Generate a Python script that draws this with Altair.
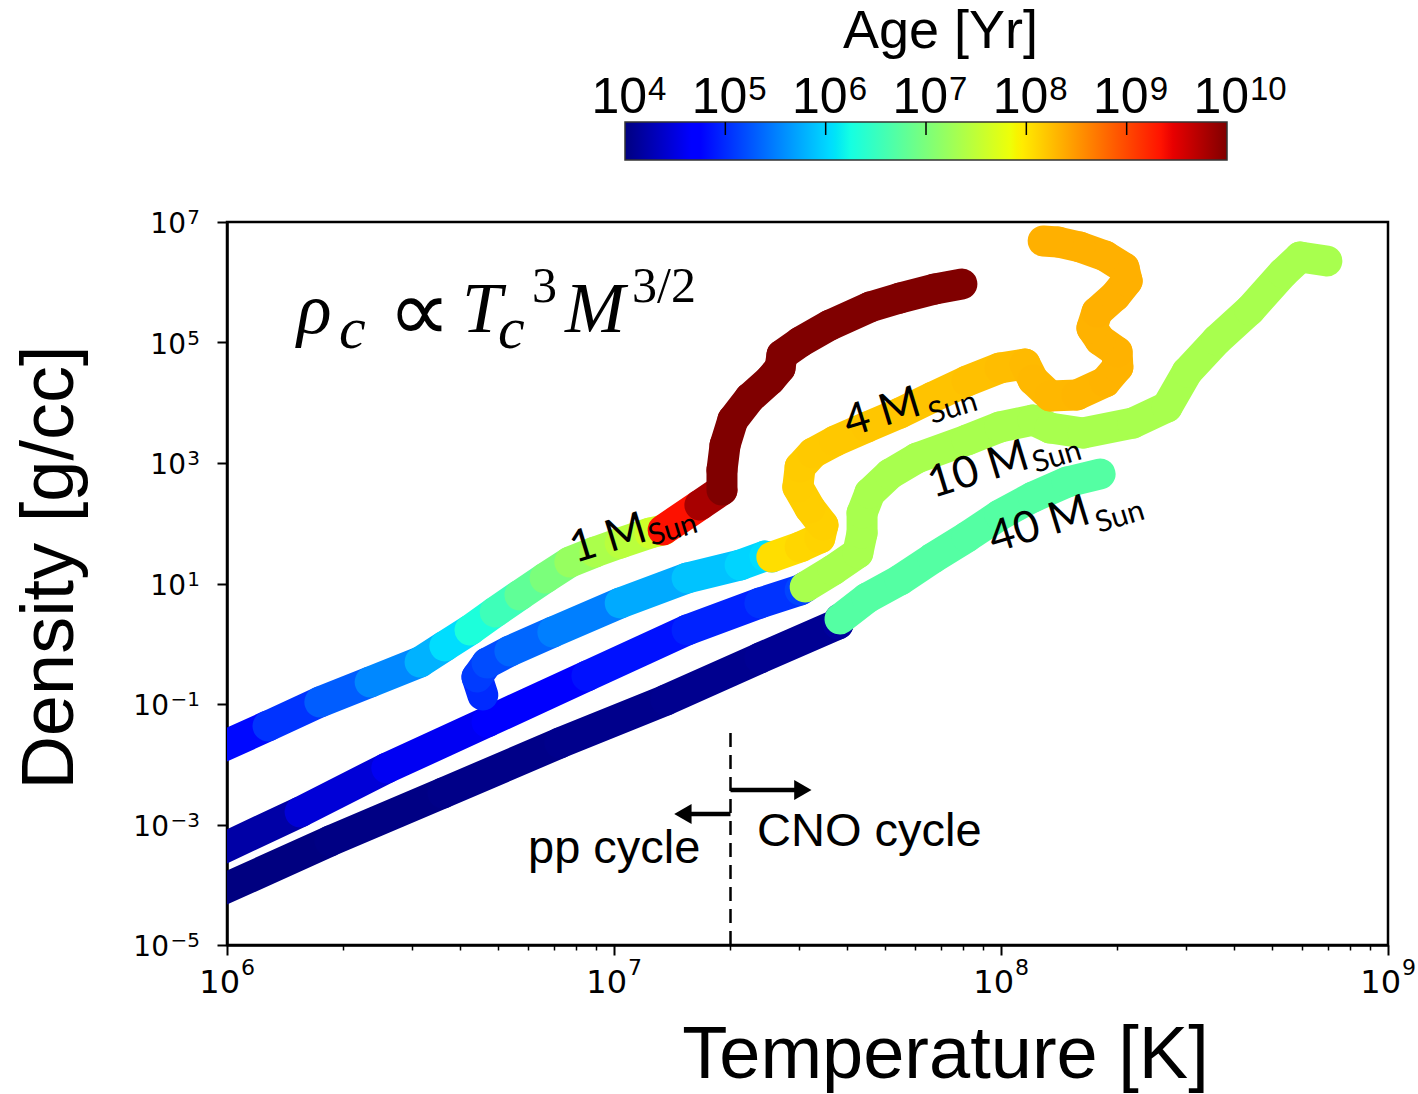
import altair as alt
import pandas as pd
import numpy as np

# ---------------------------------------------------------------------------
# Central temperature / density tracks (log10 T [K], log10 rho [g/cc]) and
# log10 age [yr] at each sampled point along the track.
# ---------------------------------------------------------------------------
m1_logT = [5.969, 6.106, 6.240, 6.370, 6.499, 6.563, 6.628, 6.693, 6.757, 6.822,
           6.886, 6.951, 7.016, 7.093, 7.127, 7.222, 7.279, 7.279, 7.287, 7.307,
           7.351, 7.403, 7.429, 7.434, 7.481, 7.558, 7.661, 7.739, 7.829, 7.899]
m1_logrho = [-1.763, -1.365, -0.967, -0.635, -0.303, -0.037, 0.228, 0.527, 0.809, 1.091,
             1.357, 1.523, 1.672, 1.838, 1.888, 2.303, 2.552, 2.884, 3.299, 3.714,
             4.079, 4.378, 4.577, 4.793, 5.008, 5.290, 5.589, 5.739, 5.888, 5.971]
m1_logage = [4.80, 5.05, 5.30, 5.55, 5.80, 6.05, 6.30, 6.55, 6.80, 7.00,
             7.20, 7.35, 7.45, 7.60, 9.35, 9.80, 10.0, 10.0, 10.0, 10.0,
             10.0, 10.0, 10.0, 10.0, 10.0, 10.0, 10.0, 10.0, 10.0, 10.0]

m4_logT = [6.661, 6.646, 6.672, 6.731, 6.842, 7.016, 7.189, 7.326, 7.390, 7.408,
           7.481, 7.532, 7.540, 7.506, 7.475, 7.481, 7.514, 7.571, 7.654, 7.739,
           7.824, 7.912, 7.997, 8.062, 8.083, 8.127, 8.196, 8.269, 8.302, 8.300,
           8.256, 8.235, 8.248, 8.295, 8.326, 8.318, 8.269, 8.204, 8.147, 8.109]
m4_logrho = [-0.851, -0.552, -0.320, -0.120, 0.195, 0.676, 1.091, 1.307, 1.456, 1.440,
             1.606, 1.755, 1.971, 2.253, 2.602, 2.934, 3.166, 3.365, 3.598, 3.830,
             4.095, 4.361, 4.577, 4.643, 4.378, 4.112, 4.129, 4.344, 4.593, 4.842,
             5.041, 5.241, 5.506, 5.772, 6.021, 6.237, 6.436, 6.585, 6.668, 6.685]
m4_logage = [5.00, 5.10, 5.20, 5.35, 5.50, 5.75, 5.90, 6.00, 6.05, 8.05,
             8.10, 8.12, 8.14, 8.15, 8.16, 8.17, 8.18, 8.19, 8.20, 8.21,
             8.22, 8.24, 8.26, 8.28, 8.29, 8.30, 8.31, 8.32, 8.32, 8.33,
             8.33, 8.33, 8.34, 8.34, 8.34, 8.34, 8.34, 8.34, 8.34, 8.34]

m10_logT = [5.969, 6.189, 6.413, 6.672, 6.930, 7.189, 7.377, 7.481,
            7.494, 7.566, 7.630, 7.641, 7.641, 7.661, 7.713, 7.783, 7.912, 7.997,
            8.083, 8.127, 8.212, 8.341, 8.429, 8.481, 8.558, 8.643, 8.729, 8.773, 8.842]
m10_logrho = [-3.456, -2.793, -2.062, -1.299, -0.535, 0.228, 0.676, 0.892,
              0.942, 1.224, 1.506, 1.838, 2.170, 2.502, 2.817, 3.083, 3.382, 3.598,
              3.714, 3.581, 3.498, 3.664, 3.929, 4.510, 5.041, 5.539, 6.154, 6.419, 6.353]
m10_logage = [4.20, 4.45, 4.60, 4.75, 4.85, 4.95, 5.05, 5.15,
              7.33, 7.33, 7.33, 7.33, 7.33, 7.33, 7.33, 7.33, 7.33, 7.33,
              7.33, 7.33, 7.33, 7.33, 7.33, 7.33, 7.33, 7.33, 7.33, 7.33, 7.33]

m40_logT = [5.969, 6.266, 6.558, 6.860, 7.134, 7.377, 7.579,
            7.584, 7.654, 7.739, 7.824, 7.912, 7.997, 8.083, 8.171, 8.256]
m40_logrho = [-4.137, -3.274, -2.477, -1.647, -0.934, -0.237, 0.328,
              0.411, 0.759, 1.058, 1.423, 1.772, 2.137, 2.436, 2.685, 2.817]
m40_logage = [4.00, 4.02, 4.04, 4.06, 4.08, 4.10, 4.15,
              6.71, 6.71, 6.71, 6.71, 6.71, 6.71, 6.71, 6.71, 6.71]

# drawing order: later tracks sit on top
tracks = [
    ("10", m10_logT, m10_logrho, m10_logage),
    ("40", m40_logT, m40_logrho, m40_logage),
    ("4", m4_logT, m4_logrho, m4_logage),
    ("1", m1_logT, m1_logrho, m1_logage),
]

rows = []
for name, lT, lr, la in tracks:
    for i in range(len(lT) - 1):
        rows.append({
            "star": name,
            "T": 10 ** lT[i], "T2": 10 ** lT[i + 1],
            "rho": 10 ** lr[i], "rho2": 10 ** lr[i + 1],
            "age": la[i],
        })
segments = pd.DataFrame(rows)

# ---------------------------------------------------------------------------
# Tick labels (base "10" plus exponent)
# ---------------------------------------------------------------------------
x_label_values = [1e6, 1e7, 1e8, 1e9]
x_label_exp = ["6", "7", "8", "9"]
y_label_pos_values = [1e1, 1e3, 1e5, 1e7]
y_label_pos_exp = ["1", "3", "5", "7"]
y_label_neg_values = [1e-5, 1e-3, 1e-1]
y_label_neg_exp = ["−5", "−3", "−1"]
cbar_ticks = [4, 5, 6, 7, 8, 9, 10]
cbar_exp = ["4", "5", "6", "7", "8", "9", "10"]
cbar_inner = [5, 6, 7, 8, 9]

# ---------------------------------------------------------------------------
# Annotations (positions in log10 T, log10 rho)
# ---------------------------------------------------------------------------
pp_cno_T = 2e7
dash_top_logrho = -1.448

arrow_start_logT = [7.301, 7.301]
arrow_end_logT = [7.481, 7.196]
arrow_head_logT = [7.488, 7.178]
arrow_logrho = [-2.427, -2.826]
arrow_shape = ["triangle-right", "triangle-left"]

cycle_text = ["CNO cycle", "pp cycle"]
cycle_logT = [7.3695, 6.7778]
cycle_logrho = [-3.357, -3.639]

formula_it_text = ["ρ", "c", "T", "c", "M"]
formula_it_logT = [6.1809, 6.2894, 6.6072, 6.7003, 6.8734]
formula_it_logrho = [5.1577, 4.9087, 5.1743, 4.9087, 5.1743]
formula_it_size = [72, 60, 72, 60, 72]

formula_sup_text = ["3", "3/2"]
formula_sup_logT = [6.7881, 7.0465]
formula_sup_logrho = [5.672, 5.672]

propto_logT = [6.416]
propto_logrho = [5.025]

mass_text = ["1 M", "4 M", "10 M", "40 M"]
mass_logT = [6.8992, 7.6072, 7.8243, 7.9819]
mass_logrho = [1.3402, 3.4315, 2.4191, 1.5062]
sun_logT = [7.0982, 7.8217, 8.0904, 8.2532]
sun_logrho = [1.6224, 3.6473, 2.8340, 1.8382]

# ---------------------------------------------------------------------------
# Jet colormap on log10(age) from 4 to 10
# ---------------------------------------------------------------------------
age_lo, age_hi = 4.0, 10.0
jet_pos = [0, 0.11, 0.125, 0.34, 0.35, 0.375, 0.64, 0.65, 0.66, 0.89, 0.91, 1.0]
jet_col = ["#000080", "#0000ff", "#0000ff", "#00dbff", "#00e5f7", "#15ffe2",
           "#eeff08", "#f7f500", "#ffec00", "#ff1300", "#e80000", "#800000"]
age_scale = alt.Scale(domain=[age_lo + (age_hi - age_lo) * p for p in jet_pos],
                      range=jet_col, interpolate="rgb", clamp=True)

# ---------------------------------------------------------------------------
# Scales and axes
# ---------------------------------------------------------------------------
PLOT_W, PLOT_H = 1161, 723
xs = alt.Scale(type="log", domain=[1e6, 1e9], nice=False)
ys = alt.Scale(type="log", domain=[1e-5, 1e7], nice=False)

x_tick_values = [m * 10 ** e for e in (6, 7, 8) for m in range(1, 10)] + [10 ** 9]
x_major = ("datum.value == 1000000 || datum.value == 10000000 || "
           "datum.value == 100000000 || datum.value == 1000000000")
x_axis = alt.Axis(
    orient="bottom", values=x_tick_values, grid=False, labels=False,
    tickSize={"condition": {"test": x_major, "value": 10}, "value": 5},
    tickWidth={"condition": {"test": x_major, "value": 2}, "value": 1.5},
    domainWidth=2.5,
    title="Temperature [K]", titleFont="Liberation Sans", titleFontSize=74,
    titleFontWeight="normal", titleX=718, titleY=132, titleAlign="center",
    titleBaseline="alphabetic",
)

y_axis = alt.Axis(
    orient="left", values=y_label_neg_values + y_label_pos_values, grid=False,
    labels=False, tickSize=10, tickWidth=2, domainWidth=2.5,
    title="Density [g/cc]", titleFont="Liberation Sans", titleFontSize=74,
    titleFontWeight="normal", titleAngle=270, titleX=-155, titleY=345,
    titleAlign="center", titleBaseline="alphabetic",
)


def X(field):
    return alt.X(field, type="quantitative", scale=xs, axis=x_axis)


def Y(field):
    return alt.Y(field, type="quantitative", scale=ys, axis=y_axis)


def pts(logT, logrho, **extra):
    d = {"T": [10 ** v for v in logT], "rho": [10 ** v for v in logrho]}
    d.update(extra)
    return pd.DataFrame(d)


# ---------------------------------------------------------------------------
# Main panel layers
# ---------------------------------------------------------------------------
track_layer = alt.Chart(segments).mark_rule(
    strokeWidth=31, strokeCap="round", clip=True
).encode(
    x=X("T"), x2="T2:Q", y=Y("rho"), y2="rho2:Q",
    color=alt.Color("age:Q", scale=age_scale, legend=None),
)

dash_df = pd.DataFrame({"T": [pp_cno_T], "rho": [1e-5], "rho2": [10 ** dash_top_logrho]})
dash_layer = alt.Chart(dash_df).mark_rule(
    color="black", strokeWidth=2.5, strokeDash=[14, 8]
).encode(x=X("T"), y=Y("rho"), y2="rho2:Q")

stem_df = pts(arrow_start_logT, arrow_logrho, T2=[10 ** v for v in arrow_end_logT])
stem_layer = alt.Chart(stem_df).mark_rule(color="black", strokeWidth=4.5).encode(
    x=X("T"), x2="T2:Q", y=Y("rho"))

head_df = pts(arrow_head_logT, arrow_logrho, shape=arrow_shape)
head_layer = alt.Chart(head_df).mark_point(
    filled=True, size=400, color="black", opacity=1
).encode(x=X("T"), y=Y("rho"), shape=alt.Shape("shape:N", scale=None))

cycle_layer = alt.Chart(pts(cycle_logT, cycle_logrho, text=cycle_text)).mark_text(
    font="Liberation Sans", fontSize=47, align="left", baseline="alphabetic", color="black"
).encode(x=X("T"), y=Y("rho"), text="text:N")

f_it_df = pts(formula_it_logT, formula_it_logrho, text=formula_it_text, size=formula_it_size)
f_it_layer = alt.Chart(f_it_df).mark_text(
    font="Liberation Serif", fontStyle="italic", align="left",
    baseline="alphabetic", color="black"
).encode(x=X("T"), y=Y("rho"), text="text:N",
         size=alt.Size("size:Q", scale=None, legend=None))

f_sup_layer = alt.Chart(pts(formula_sup_logT, formula_sup_logrho, text=formula_sup_text)).mark_text(
    font="Liberation Serif", fontSize=50, align="left", baseline="alphabetic", color="black"
).encode(x=X("T"), y=Y("rho"), text="text:N")

propto_layer = alt.Chart(pts(propto_logT, propto_logrho, text=["∝"])).mark_text(
    font="DejaVu Sans", fontSize=88, align="left", baseline="alphabetic", color="black"
).encode(x=X("T"), y=Y("rho"), text="text:N")

mass_layer = alt.Chart(pts(mass_logT, mass_logrho, text=mass_text)).mark_text(
    font="Lato", fontSize=44, angle=343, align="left", baseline="alphabetic", color="black"
).encode(x=X("T"), y=Y("rho"), text="text:N")

sun_layer = alt.Chart(pts(sun_logT, sun_logrho, text=["Sun"] * 4)).mark_text(
    font="Lato", fontSize=30, angle=343, align="left", baseline="alphabetic", color="black"
).encode(x=X("T"), y=Y("rho"), text="text:N")

# tick labels of the main axes
xlab_df = pd.DataFrame({"T": x_label_values, "exp": x_label_exp})
xbase_layer = alt.Chart(xlab_df).mark_text(
    font="DejaVu Sans", fontSize=32, align="right", baseline="alphabetic",
    dx=13, dy=48, color="black"
).encode(x=X("T"), y=alt.value(PLOT_H), text=alt.value("10"))
xexp_layer = alt.Chart(xlab_df).mark_text(
    font="DejaVu Sans", fontSize=22, align="left", baseline="alphabetic",
    dx=14, dy=30, color="black"
).encode(x=X("T"), y=alt.value(PLOT_H), text="exp:N")

ypos_df = pd.DataFrame({"rho": y_label_pos_values, "exp": y_label_pos_exp})
yneg_df = pd.DataFrame({"rho": y_label_neg_values, "exp": y_label_neg_exp})
ylab_df = pd.concat([yneg_df, ypos_df], ignore_index=True)
yexp_layer = alt.Chart(ylab_df).mark_text(
    font="DejaVu Sans", fontSize=20, align="right", baseline="alphabetic",
    dx=-27, dy=2, color="black"
).encode(x=alt.value(0), y=Y("rho"), text="exp:N")
ybase_pos_layer = alt.Chart(ypos_df).mark_text(
    font="DejaVu Sans", fontSize=28, align="right", baseline="alphabetic",
    dx=-41, dy=11, color="black"
).encode(x=alt.value(0), y=Y("rho"), text=alt.value("10"))
ybase_neg_layer = alt.Chart(yneg_df).mark_text(
    font="DejaVu Sans", fontSize=28, align="right", baseline="alphabetic",
    dx=-58, dy=11, color="black"
).encode(x=alt.value(0), y=Y("rho"), text=alt.value("10"))

main = alt.layer(track_layer, dash_layer, stem_layer, head_layer, cycle_layer,
                 f_it_layer, f_sup_layer, propto_layer, mass_layer, sun_layer,
                 xbase_layer, xexp_layer, yexp_layer, ybase_pos_layer, ybase_neg_layer)

# ---------------------------------------------------------------------------
# Colour bar above the panel (its own x scale in log10 age)
# ---------------------------------------------------------------------------
cb_scale = alt.Scale(domain=[0.0332, 11.6046], nice=False, zero=False)
cb_axis = alt.Axis(
    orient="top", offset=100, values=cbar_ticks, grid=False, domain=False,
    ticks=False, tickSize=0, labels=False,
    title="Age [Yr]", titleFont="Liberation Sans", titleFontSize=54,
    titleFontWeight="normal", titleX=713, titleY=-75, titleAlign="center",
    titleBaseline="alphabetic",
)


def CBX(field):
    return alt.X(field, type="quantitative", scale=cb_scale, axis=cb_axis)


jet_gradient = alt.LinearGradient(
    gradient="linear", x1=0, x2=1, y1=0, y2=0,
    stops=[alt.GradientStop(color=c, offset=p) for p, c in zip(jet_pos, jet_col)],
)

bar_df = pd.DataFrame({"lage": [age_lo], "lage_hi": [age_hi]})
bar_layer = alt.Chart(bar_df).mark_rect(
    fill=jet_gradient, stroke="#333333", strokeWidth=1.5
).encode(x=CBX("lage"), x2="lage_hi:Q", y=alt.value(-100), y2=alt.value(-62))

inner_layer = alt.Chart(pd.DataFrame({"lage": cbar_inner})).mark_rule(
    color="black", strokeWidth=1.5
).encode(x=CBX("lage"), y=alt.value(-100), y2=alt.value(-87))

cblab_df = pd.DataFrame({"lage": cbar_ticks, "exp": cbar_exp})
cbbase_layer = alt.Chart(cblab_df).mark_text(
    font="Liberation Sans", fontSize=50, align="right", baseline="alphabetic",
    dx=22, color="black"
).encode(x=CBX("lage"), y=alt.value(-109), text=alt.value("10"))
cbexp_layer = alt.Chart(cblab_df).mark_text(
    font="Liberation Sans", fontSize=33, align="left", baseline="alphabetic",
    dx=23, color="black"
).encode(x=CBX("lage"), y=alt.value(-122), text="exp:N")

colorbar = alt.layer(bar_layer, inner_layer, cbbase_layer, cbexp_layer)

chart = alt.layer(main, colorbar).resolve_scale(x="independent").properties(
    width=PLOT_W, height=PLOT_H,
    autosize=alt.AutoSizeParams(type="none"),
    padding={"left": 227, "top": 222, "right": 30, "bottom": 149},
    background="white",
).configure_view(
    stroke="black", strokeWidth=2.5
).configure_axis(
    domainColor="black", tickColor="black", labelColor="black", titleColor="black"
)

chart.save("out.html", embed_options={"renderer": "svg", "actions": False})
